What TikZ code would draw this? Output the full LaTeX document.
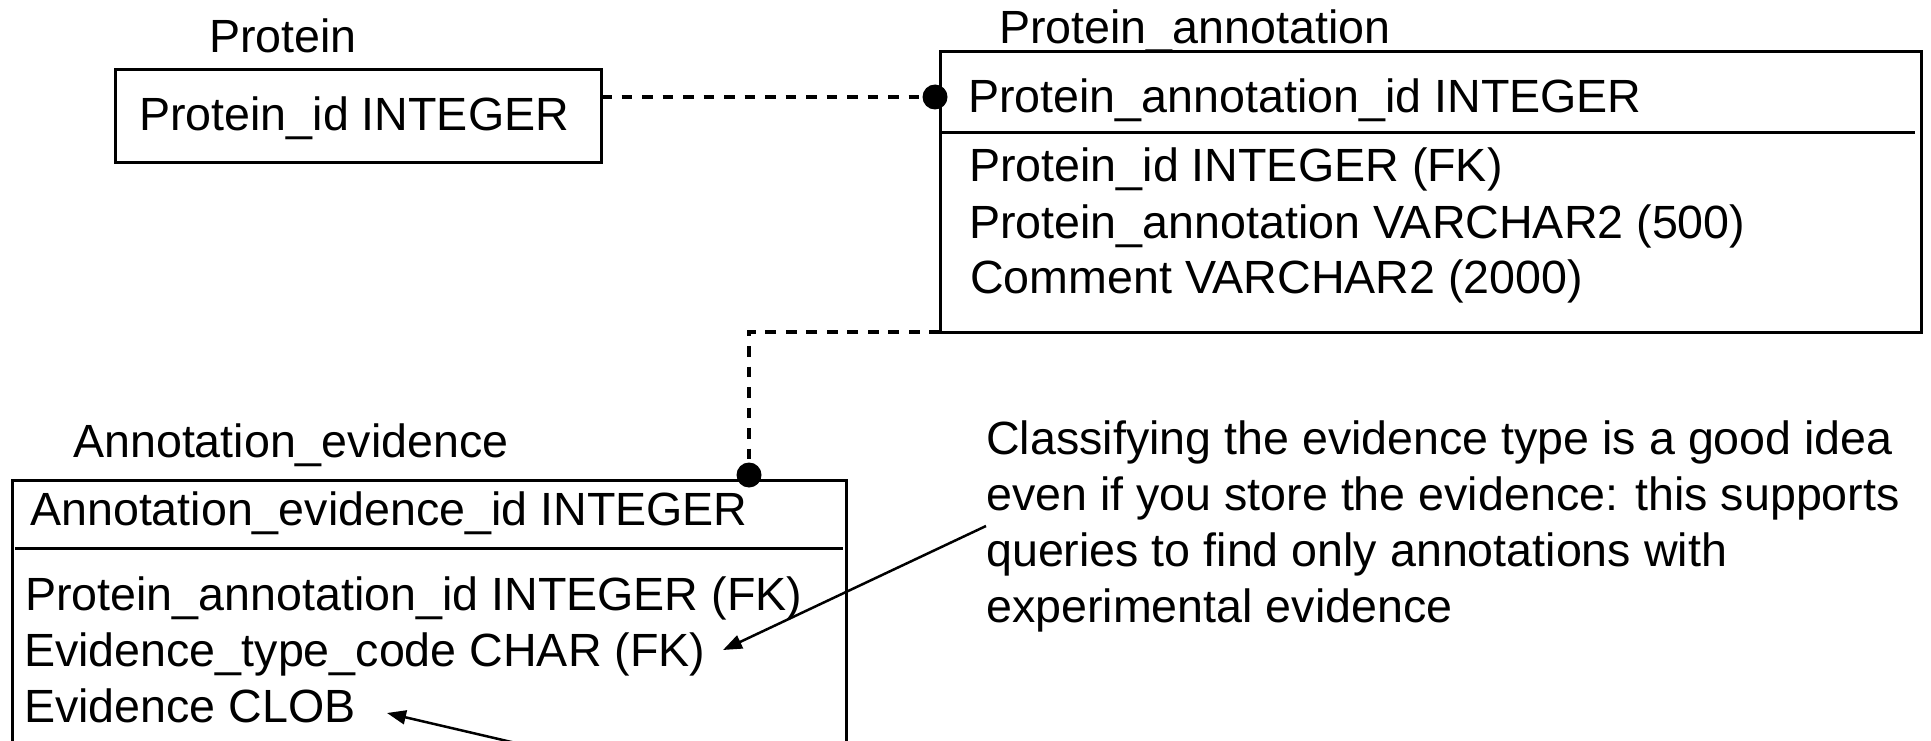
\documentclass[tikz,border=0pt]{standalone}
\usepackage{fontspec}
\setmainfont{Liberation Sans}
\usetikzlibrary{arrows.meta}
\begin{document}
\begin{tikzpicture}[x=1pt,y=-1pt,
  txt/.style={inner sep=0pt, anchor=base west, font=\fontsize{46.6}{56}\selectfont},
  tbl/.style={draw, line width=3pt, rectangle, inner sep=0pt, outer sep=0pt, anchor=north west},
  divider/.style={line width=3pt},
  rel/.style={dash pattern=on 10.7pt off 9.8pt, line width=3.2pt},
  dotn/.style={circle, fill=black, inner sep=0pt, minimum size=25pt},
  notearrow/.style={line width=2.5pt, -{Triangle[length=19pt,width=14pt]}}]
\useasboundingbox (0,0) rectangle (1931,741);
\clip (0,0) rectangle (1931,741);
\fill[white] (0,0) rectangle (1931,741);

% Protein table
\node[txt] (protlabel) at (209,53) {Protein};
\node[tbl, minimum width=486pt, minimum height=93pt] (prot) at (115,70) {};
\node[txt] (protid) at (139,131) {Protein\_id INTEGER};

% Protein_annotation table
\node[txt] (palabel) at (999,44) {Protein\_annotation};
\node[tbl, minimum width=981pt, minimum height=280pt] (pa) at (940,52) {};
\draw[divider] (940,133) -- (1915,133);
\node[txt] (paid) at (968,113) {Protein\_annotation\_id INTEGER};
\node[txt] (pa1) at (969,182) {Protein\_id INTEGER (FK)};
\node[txt] (pa2) at (969,238) {Protein\_annotation VARCHAR2 (500)};
\node[txt] (pa3) at (970,293) {Comment VARCHAR2 (2000)};

% Annotation_evidence table
\node[txt] (aelabel) at (73,457) {Annotation\_evidence};
\node[tbl, minimum width=834pt, minimum height=300pt] (ae) at (12,480) {};
\draw[divider] (15,548) -- (843,548);
\node[txt] (aeid) at (30,525) {Annotation\_evidence\_id INTEGER};
\node[txt] (ae1) at (25,610) {Protein\_annotation\_id INTEGER (FK)};
\node[txt] (ae2) at (24,666) {Evidence\_type\_code CHAR (FK)};
\node[txt] (ae3) at (24,722) {Evidence CLOB};

% relationship dots
\node[dotn] (d1) at (935,97) {};
\node[dotn] (d2) at (749,475) {};

% relationships
\draw[rel] (prot.east |- d1) -- (d1.center);
\draw[rel] (pa.south west) -| (d2.center);

% note
\node[txt] (note1) at (986,454) {Classifying the evidence type is a good idea};
\node[txt] (note2) at (986,510) {even if you store the evidence: this supports};
\node[txt] (note3) at (986,566) {queries to find only annotations with};
\node[txt] (note4) at (986,622) {experimental evidence};

\coordinate (a1s) at (986,526);
\coordinate (a1e) at (723,650);
\draw[notearrow] (a1s) -- (a1e);
\coordinate (a2s) at (550,751);
\coordinate (a2e) at (387,713);
\draw[notearrow] (a2s) -- (a2e);
\end{tikzpicture}
\end{document}
